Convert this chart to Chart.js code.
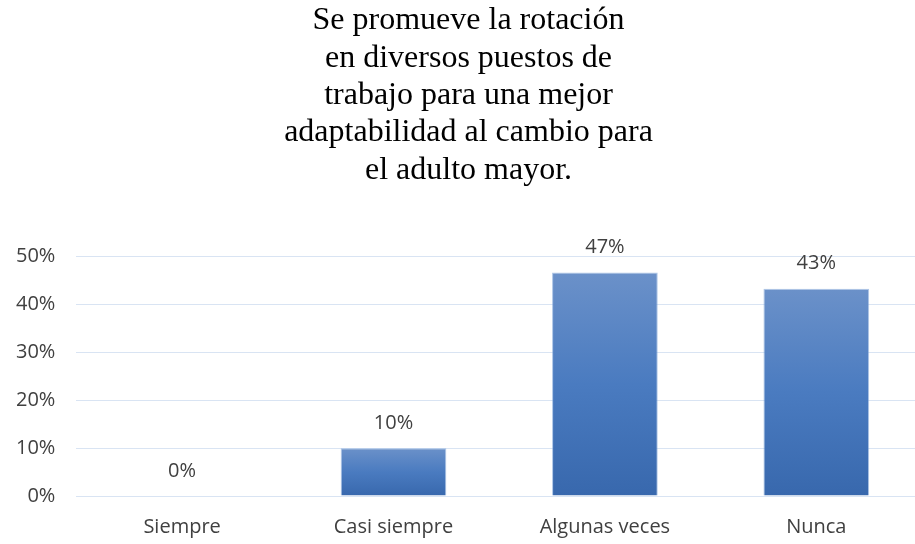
<!DOCTYPE html>
<html>
<head>
<meta charset="utf-8">
<script src="https://cdn.jsdelivr.net/npm/chart.js@4"></script>
<style>
    html, body { margin: 0; padding: 0; background: #fff; overflow: hidden; }
    #wrap { width: 915px; height: 544px; overflow: hidden; }
</style>
</head>
<body>
<div id="wrap"><canvas id="rotacionChart" width="922" height="544"></canvas></div>
<script>
// Chart data
const categories = ['Siempre', 'Casi siempre', 'Algunas veces', 'Nunca'];
const percentages = [0, 10, 46.7, 43.3];
const yTicks = [0, 10, 20, 30, 40, 50];
const titleLines = [
    'Se promueve la rotación',
    'en diversos puestos de',
    'trabajo para una mejor',
    'adaptabilidad al cambio para',
    'el adulto mayor.'
];

// Vertical gradient per bar, lighter at the top
function barGradient(context) {
    const chart = context.chart;
    const yScale = chart.scales.y;
    if (!yScale || context.raw === undefined) return '#4f7fc0';
    const top = yScale.getPixelForValue(context.raw);
    const bottom = yScale.getPixelForValue(0);
    if (!isFinite(top) || !isFinite(bottom) || bottom - top < 1) return '#4f7fc0';
    const g = chart.ctx.createLinearGradient(0, top, 0, bottom);
    g.addColorStop(0, '#6b91c9');
    g.addColorStop(0.5, '#4a7bc0');
    g.addColorStop(1, '#3868ad');
    return g;
}

// Value labels above each bar
const valueLabels = {
    id: 'valueLabels',
    afterDatasetsDraw(chart) {
        const ctx = chart.ctx;
        const meta = chart.getDatasetMeta(0);
        ctx.save();
        ctx.font = '20px "Open Sans"';
        ctx.fillStyle = '#404040';
        ctx.textAlign = 'center';
        ctx.textBaseline = 'middle';
        meta.data.forEach((bar, i) => {
            ctx.fillText(Math.round(percentages[i]) + '%', bar.x, bar.y - 25);
        });
        ctx.restore();
    }
};

const ctx = document.getElementById('rotacionChart').getContext('2d');
new Chart(ctx, {
    type: 'bar',
    data: {
        labels: categories,
        datasets: [{
            data: percentages,
            backgroundColor: barGradient,
            borderColor: 'rgba(120,160,215,0.6)',
            borderWidth: 1,
            barPercentage: 1,
            categoryPercentage: 0.5
        }]
    },
    options: {
        responsive: false,
        animation: false,
        layout: { padding: { left: 15, right: 0, top: 0, bottom: 3 } },
        plugins: {
            legend: { display: false },
            tooltip: { enabled: false },
            title: {
                display: true,
                text: titleLines,
                color: '#000',
                font: { family: '"Liberation Serif", "Times New Roman", serif', size: 32, weight: 'normal', lineHeight: 1.17 },
                padding: { top: 2, bottom: 67.5 }
            }
        },
        scales: {
            x: {
                grid: { display: false, tickLength: 17 },
                border: { display: false },
                ticks: {
                    color: '#404040',
                    font: { family: '"Open Sans"', size: 20 },
                    padding: 2
                }
            },
            y: {
                min: 0,
                max: 50,
                afterBuildTicks(axis) {
                    axis.ticks = yTicks.map(v => ({ value: v }));
                },
                grid: { color: '#d9e4f3', lineWidth: 1, drawTicks: true, tickLength: 20, tickColor: 'rgba(0,0,0,0)' },
                border: { display: false },
                ticks: {
                    color: '#404040',
                    font: { family: '"Open Sans"', size: 20 },
                    padding: 1,
                    callback: v => v + '%'
                }
            }
        }
    },
    plugins: [valueLabels]
});
</script>
</body>
</html>
